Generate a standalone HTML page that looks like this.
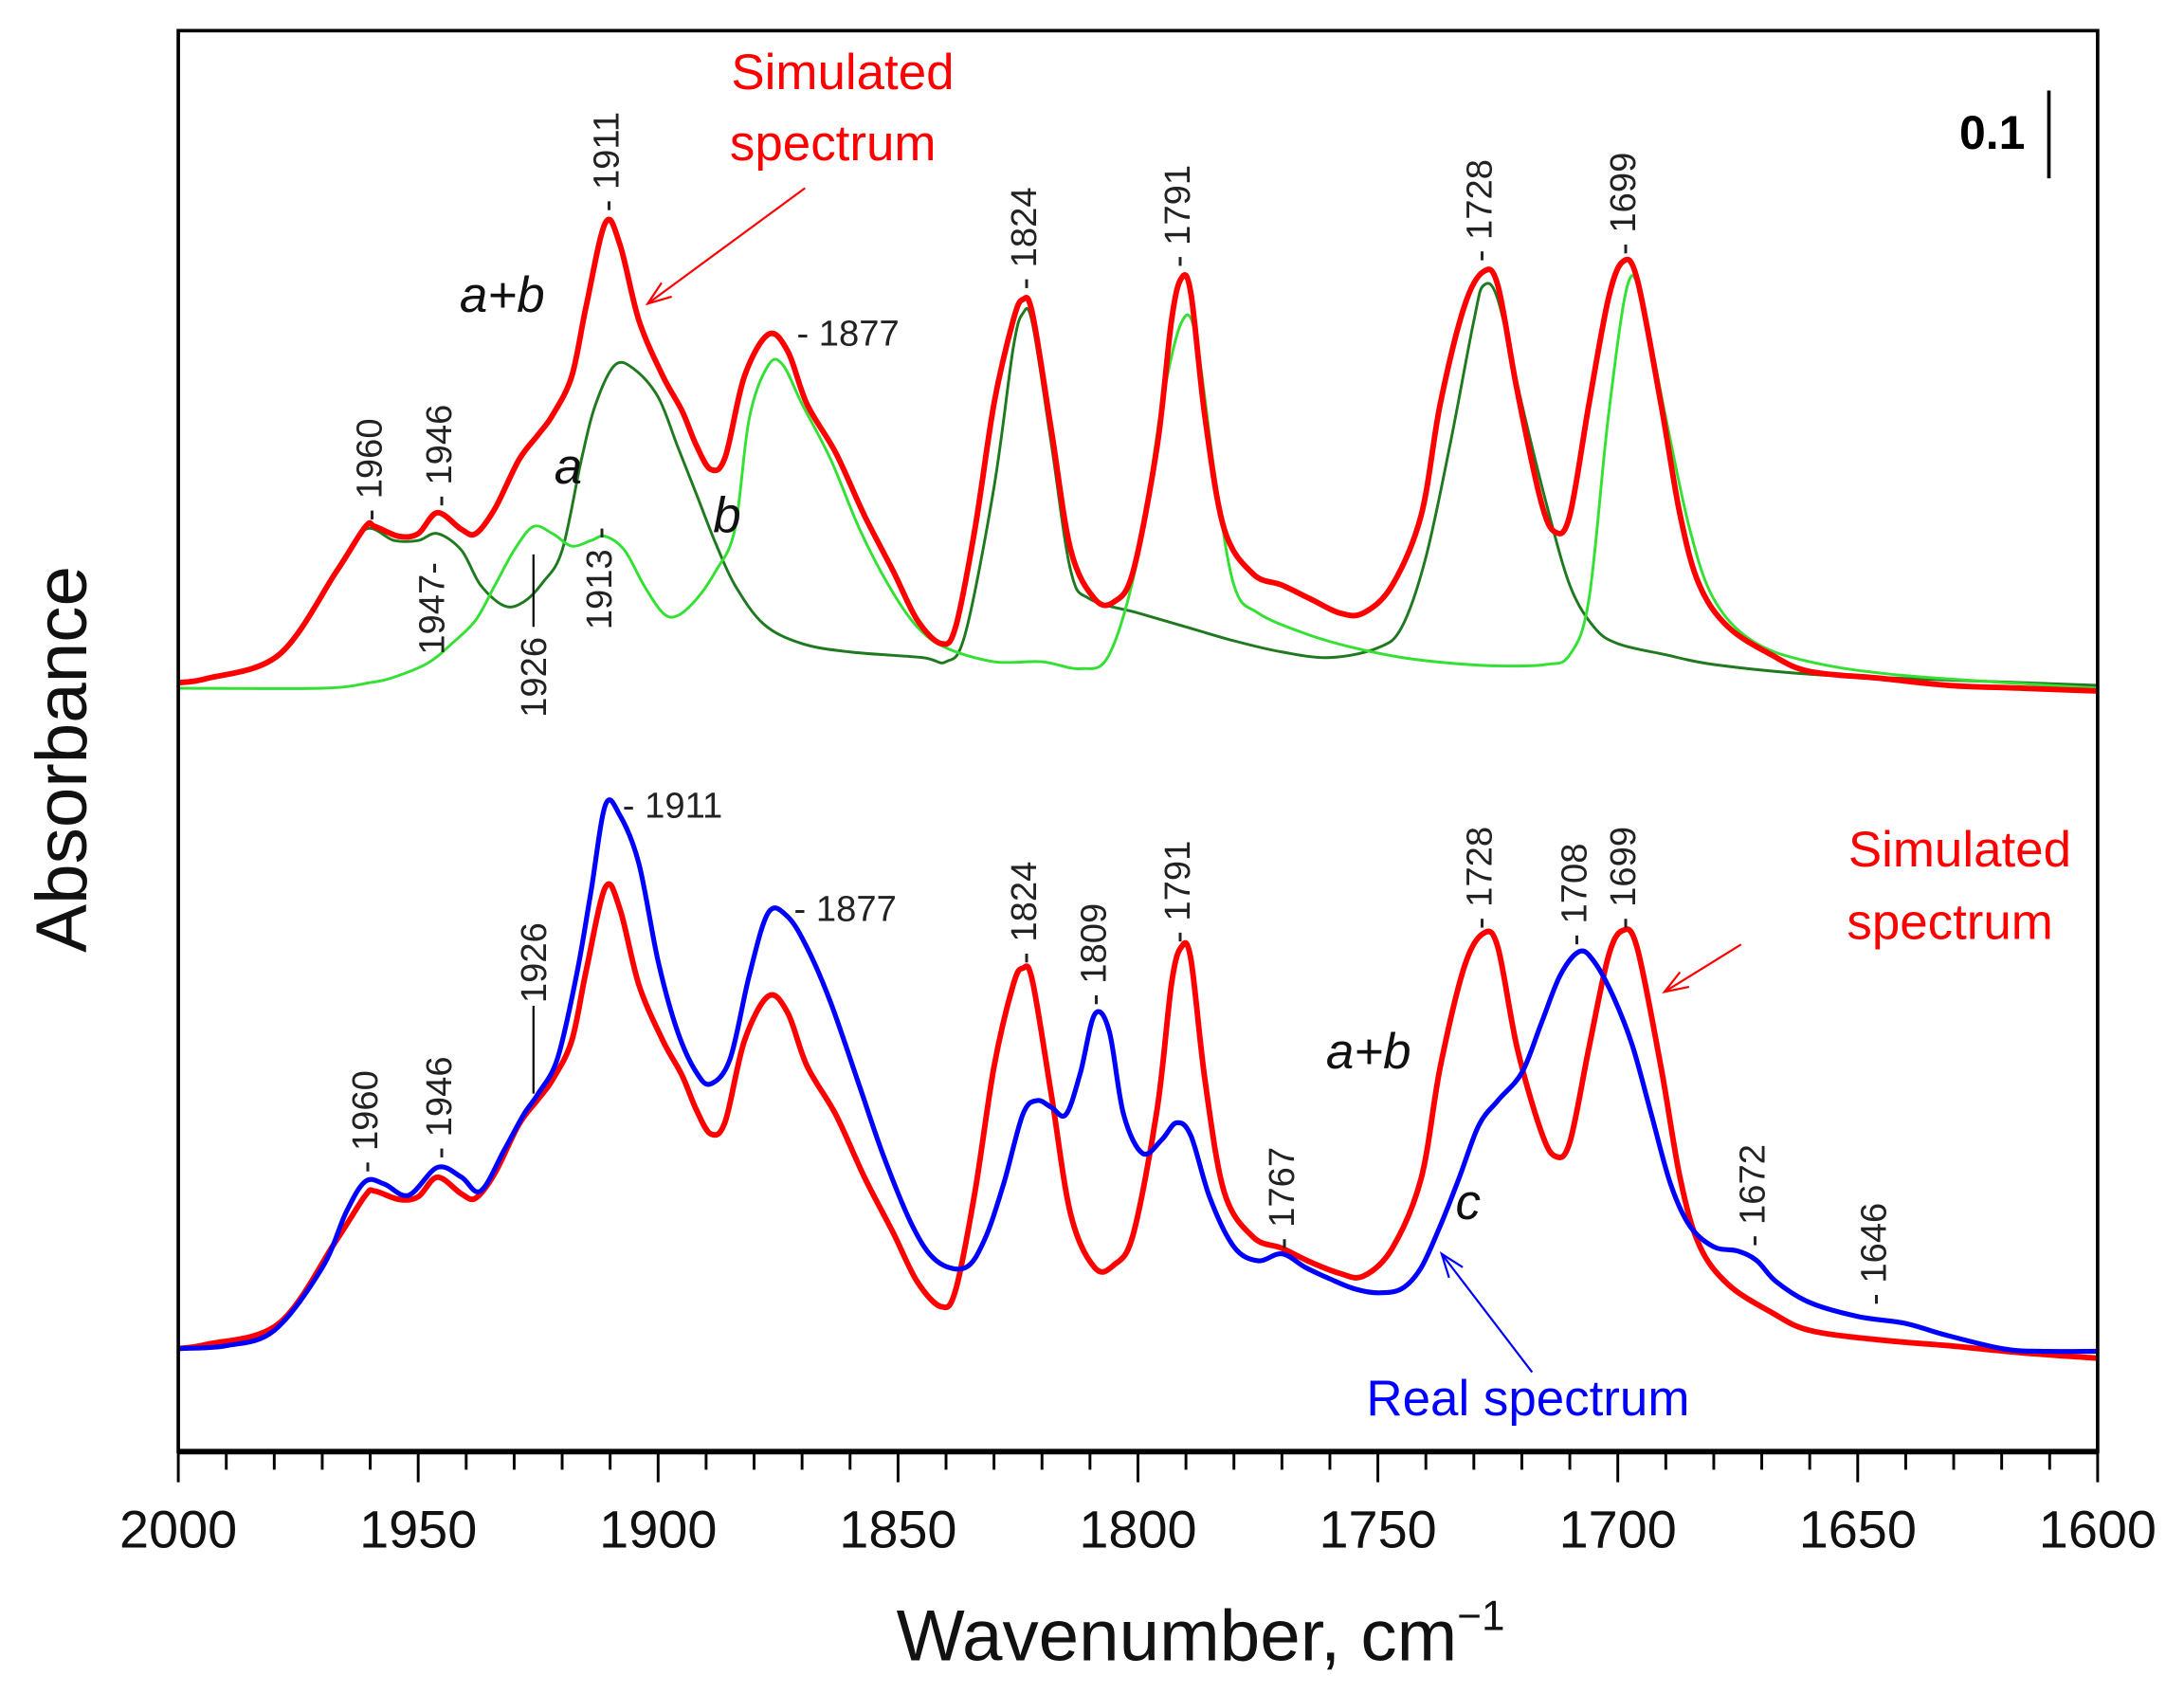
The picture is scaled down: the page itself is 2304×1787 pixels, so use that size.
<!DOCTYPE html>
<html><head><meta charset="utf-8"><style>
html,body{margin:0;padding:0;background:#fff;}
svg{display:block;}
text{font-family:"Liberation Sans",Arial,sans-serif;}
</style></head><body>
<svg id="chart" width="2304" height="1787" viewBox="0 0 1568 1216" preserveAspectRatio="none" xmlns="http://www.w3.org/2000/svg">
<g id="curves"></g>
<rect x="128" y="22" width="1378" height="1020" fill="none" stroke="#000" stroke-width="2.5"/>
<line x1="128" y1="1042" x2="1506" y2="1042" stroke="#000" stroke-width="4"/>
<g id="ticks"></g>
<text x="862" y="1192" font-size="52" text-anchor="middle" fill="#111">Wavenumber, cm<tspan dy="-22" font-size="30">−1</tspan></text>
<text transform="translate(62,545) rotate(-90)" font-size="52" text-anchor="middle" fill="#111">Absorbance</text>
<g>
<text x="1454" y="107" font-size="34" font-weight="bold" text-anchor="end">0.1</text>
<line x1="1471" y1="65" x2="1471" y2="128" stroke="#000" stroke-width="2.5"/>
</g>
<g id="ann"></g>
</svg>
<script>
// wavenumbers (cm-1) and intensities (arbitrary units; 63 units = 0.1 absorbance)
const xTicks = [2000,1950,1900,1850,1800,1750,1700,1650,1600];
const redTopWn = [2000,1994,1979,1967,1961,1959,1954,1950,1946,1941,1938,1934,1929,1925,1922,1918,1915,1911,1908,1904,1899,1895,1892,1889,1886,1882,1877,1873,1869,1863,1857,1851,1846,1841,1838,1834,1830,1826,1824,1822,1818,1814,1809,1805,1801,1796,1793,1791,1789,1786,1782,1776,1770,1764,1758,1753,1747,1741,1737,1732,1728,1725,1721,1716,1713,1710,1706,1702,1699,1696,1691,1687,1683,1677,1668,1660,1645,1631,1616,1600];
const redTopVal = [4,7,24,84,116,116,109,111,126,114,111,129,164,182,196,224,274,334,319,264,224,199,174,157,166,224,254,242,204,169,124,84,49,32,44,114,204,264,279,269,184,99,64,62,84,174,264,294,284,194,114,82,74,64,54,54,74,124,204,274,299,289,214,134,112,124,204,279,306,294,204,124,74,44,24,12,7,2,0,-2];
const greenAWn = [2000,1994,1979,1967,1961,1955,1950,1946,1941,1937,1932,1928,1924,1920,1916,1913,1909,1905,1900,1896,1892,1888,1884,1878,1870,1860,1845,1840,1836,1830,1826,1824,1822,1818,1814,1810,1800,1790,1780,1770,1760,1750,1745,1740,1735,1730,1728,1725,1720,1715,1710,1705,1700,1690,1680,1660,1640,1600];
const greenAVal = [4,7,24,84,114,106,106,111,99,74,59,62,76,99,164,204,232,229,209,174,139,104,74,46,32,26,22,19,39,144,244,269,262,174,84,64,54,44,34,26,22,29,44,94,174,264,289,279,204,134,74,44,32,24,17,10,7,2];
const greenBWn = [2000,1970,1960,1955,1948,1943,1938,1934,1930,1926,1922,1918,1914,1911,1907,1903,1899,1896,1892,1888,1884,1881,1877,1874,1870,1864,1858,1852,1846,1840,1830,1820,1812,1806,1800,1795,1791,1788,1784,1780,1775,1765,1755,1745,1735,1725,1715,1710,1706,1702,1698,1695,1690,1685,1680,1672,1660,1640,1600];
const greenBVal = [0,0,4,8,18,32,49,74,99,116,111,102,106,109,99,74,54,52,64,84,114,194,232,232,204,164,114,74,44,29,19,19,14,24,94,204,262,254,154,74,54,39,29,22,18,16,17,24,64,194,289,279,194,114,64,34,19,9,0];
const redBotWn = [2000,1994,1979,1967,1961,1959,1954,1950,1946,1941,1938,1934,1929,1925,1922,1918,1915,1911,1908,1904,1899,1895,1892,1889,1886,1882,1877,1873,1869,1863,1857,1851,1846,1841,1838,1834,1830,1826,1824,1822,1818,1814,1809,1805,1801,1796,1793,1791,1789,1786,1782,1776,1770,1764,1758,1753,1747,1741,1737,1732,1728,1725,1721,1716,1713,1710,1706,1702,1699,1696,1691,1687,1683,1677,1668,1660,1645,1631,1616,1600];
const redBotVal = [4,7,22,82,114,117,111,113,127,115,112,130,165,183,197,225,275,335,320,265,225,200,175,158,167,225,257,245,207,172,127,87,52,34,46,116,206,265,277,268,185,100,62,64,86,176,266,292,284,196,116,84,76,66,58,56,76,126,206,278,302,292,220,160,142,152,220,285,304,292,206,126,78,50,30,17,10,6,1,-3];
const blueWn = [2000,1990,1980,1970,1965,1961,1957,1952,1946,1941,1937,1932,1928,1925,1921,1917,1914,1911,1908,1904,1900,1896,1892,1889,1885,1881,1877,1873,1869,1864,1858,1853,1847,1842,1836,1832,1828,1824,1821,1818,1815,1812,1809,1806,1803,1799,1795,1792,1789,1785,1780,1775,1770,1765,1760,1755,1750,1745,1741,1737,1733,1729,1725,1720,1716,1712,1708,1705,1701,1697,1693,1689,1685,1680,1675,1671,1667,1660,1650,1640,1632,1620,1612,1600];
const blueVal = [4,6,17,62,102,124,122,114,134,127,117,147,172,187,212,272,332,394,387,352,282,232,202,194,212,272,317,314,292,252,192,142,92,67,62,82,122,172,182,177,172,202,244,232,172,144,154,166,157,112,77,67,72,62,54,47,44,47,62,92,127,164,182,202,237,272,289,282,257,222,172,122,92,77,74,67,52,37,27,22,14,4,2,2];

const svgNS="http://www.w3.org/2000/svg";
function xScale(wn){return 128+(2000-wn)*3.445;}
function yTop(v){return 494-v;}
function yBot(v){return 972-v;}
const curves=document.getElementById('curves');
function smoothPath(pts){
  let d='M'+pts[0][0].toFixed(1)+','+pts[0][1].toFixed(1);
  for(let i=0;i<pts.length-1;i++){
    const p0=pts[Math.max(0,i-1)],p1=pts[i],p2=pts[i+1],p3=pts[Math.min(pts.length-1,i+2)];
    const c1x=p1[0]+(p2[0]-p0[0])/6,c1y=p1[1]+(p2[1]-p0[1])/6;
    const c2x=p2[0]-(p3[0]-p1[0])/6,c2y=p2[1]-(p3[1]-p1[1])/6;
    d+=' C'+c1x.toFixed(1)+','+c1y.toFixed(1)+' '+c2x.toFixed(1)+','+c2y.toFixed(1)+' '+p2[0].toFixed(1)+','+p2[1].toFixed(1);
  }
  return d;
}
function drawLine(wn,val,ys,color,w,name){
  const p=document.createElementNS(svgNS,'path');
  p.setAttribute('d',smoothPath(wn.map((x,i)=>[xScale(x),ys(val[i])])));
  p.setAttribute('fill','none');p.setAttribute('stroke',color);p.setAttribute('stroke-width',w);
  p.setAttribute('stroke-linejoin','round');
  
  
  curves.appendChild(p);
}
drawLine(greenAWn,greenAVal,yTop,'#1f7a1f',2,'component-a-line');
drawLine(greenBWn,greenBVal,yTop,'#33e033',2,'component-b-line');
drawLine(redTopWn,redTopVal,yTop,'#ff0000',4,'simulated-spectrum-top-line');
drawLine(redBotWn,redBotVal,yBot,'#ff0000',4,'simulated-spectrum-bottom-line');
drawLine(blueWn,blueVal,yBot,'#0000ff',3.5,'real-spectrum-line');

const ticks=document.getElementById('ticks');
for(let wn=2000;wn>=1600;wn-=10){
  const major=wn%50===0;
  const l=document.createElementNS(svgNS,'line');
  const x=xScale(wn);
  l.setAttribute('x1',x);l.setAttribute('x2',x);l.setAttribute('y1',1042);l.setAttribute('y2',1042+(major?22:13));
  l.setAttribute('stroke','#000');l.setAttribute('stroke-width',2);
  
  
  ticks.appendChild(l);
}
xTicks.forEach(wn=>{
  const t=document.createElementNS(svgNS,'text');
  t.setAttribute('x',xScale(wn));t.setAttribute('y',1111);t.setAttribute('font-size','38');
  t.setAttribute('text-anchor','middle');t.setAttribute('fill','#111');
  t.textContent=wn;
  
  
  ticks.appendChild(t);
});

const ann=document.getElementById('ann');
function txt(x,y,s,opt){
  const t=document.createElementNS(svgNS,'text');
  t.setAttribute('x',x);t.setAttribute('y',y);
  t.setAttribute('font-size',opt.size||26);t.setAttribute('fill',opt.color||'#222');
  if(opt.italic)t.setAttribute('font-style','italic');
  if(opt.anchor)t.setAttribute('text-anchor',opt.anchor);
  if(opt.rot)t.setAttribute('transform','rotate(-90 '+x+' '+y+')');
  t.textContent=s;
  
  
  ann.appendChild(t);
}
function line(x1,y1,x2,y2,c,w,name){
  const l=document.createElementNS(svgNS,'line');
  l.setAttribute('x1',x1);l.setAttribute('y1',y1);l.setAttribute('x2',x2);l.setAttribute('y2',y2);
  l.setAttribute('stroke',c);l.setAttribute('stroke-width',w);
  
  
  ann.appendChild(l);
}
function arrow(x1,y1,x2,y2,c,name){
  line(x1,y1,x2,y2,c,1.5,name);
  const a=Math.atan2(y2-y1,x2-x1),L=18,s=0.35;
  const p=document.createElementNS(svgNS,'polyline');
  p.setAttribute('points',(x2-L*Math.cos(a-s))+','+(y2-L*Math.sin(a-s))+' '+x2+','+y2+' '+(x2-L*Math.cos(a+s))+','+(y2-L*Math.sin(a+s)));
  p.setAttribute('fill','none');p.setAttribute('stroke',c);p.setAttribute('stroke-width',1.5);
  
  
  ann.appendChild(p);
}
// top panel
txt(605,64,'Simulated',{size:36,color:'#ff0000',anchor:'middle',name:'simulated-label-top'});
txt(598,115,'spectrum',{size:36,color:'#ff0000',anchor:'middle',name:'simulated-label-top-2'});
arrow(578,135,465,218,'#ff0000','simulated-arrow-top');
txt(330,224,'a+b',{size:36,color:'#111',italic:true,name:'a-plus-b-label-top'});
txt(398,347,'a',{size:36,color:'#111',italic:true,name:'a-label'});
txt(512,382,'b',{size:36,color:'#111',italic:true,name:'b-label'});
[[444,152,'- 1911'],[744,208,'- 1824'],[854,192,'- 1791'],[1071,188,'- 1728'],[1174,183,'- 1699'],[274,374,'- 1960'],[324,364,'- 1946']].forEach(d=>txt(d[0],d[1],d[2],{rot:true}));
txt(319,470,'1947-',{rot:true});
txt(392,515,'1926',{rot:true});
txt(439,452,'1913 -',{rot:true});
line(383,398,383,450,'#000',1.5,'marker-1926-top');
txt(572,248,'- 1877',{});
// bottom panel
txt(447,587,'- 1911',{});
txt(570,661,'- 1877',{});
[[744,692,'- 1824'],[794,722,'- 1809'],[854,677,'- 1791'],[1071,667,'- 1728'],[1139,679,'- 1708'],[1174,667,'- 1699'],[271,842,'- 1960'],[324,832,'- 1946'],[929,897,'- 1767'],[1267,895,'- 1672'],[1354,937,'- 1646']].forEach(d=>txt(d[0],d[1],d[2],{rot:true}));
txt(392,720,'1926',{rot:true});
line(383,722,383,785,'#000',1.5,'marker-1926-bottom');
txt(1407,622,'Simulated',{size:36,color:'#ff0000',anchor:'middle',name:'simulated-label-bottom'});
txt(1400,674,'spectrum',{size:36,color:'#ff0000',anchor:'middle',name:'simulated-label-bottom-2'});
arrow(1250,678,1195,712,'#ff0000','simulated-arrow-bottom');
txt(952,767,'a+b',{size:36,color:'#111',italic:true,name:'a-plus-b-label-bottom'});
txt(1045,875,'c',{size:36,color:'#111',italic:true,name:'c-label'});
txt(1097,1016,'Real spectrum',{size:36,color:'#0000ff',anchor:'middle',name:'real-spectrum-label'});
arrow(1100,985,1035,900,'#0000ff','real-spectrum-arrow');
</script>
</body></html>
